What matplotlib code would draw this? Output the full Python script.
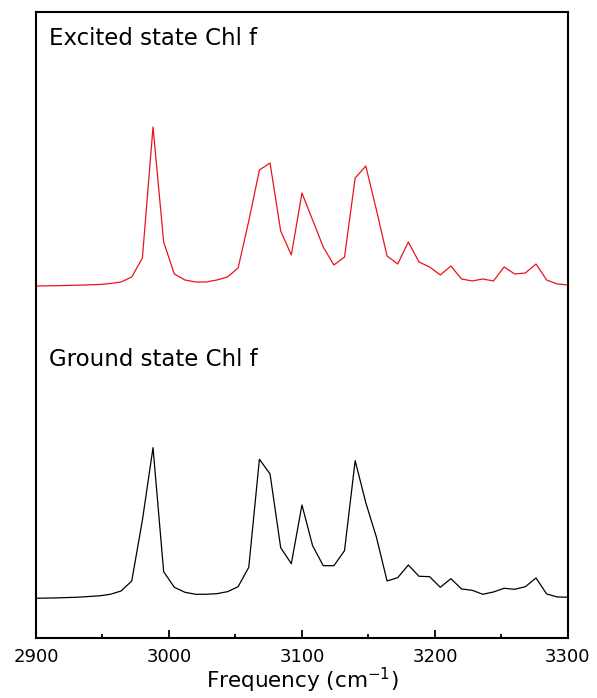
import matplotlib
matplotlib.use('Agg')
import matplotlib.pyplot as plt
from matplotlib.ticker import MultipleLocator

plt.rcParams['font.family'] = ['DejaVu Sans']
plt.rcParams['mathtext.fontset'] = 'dejavusans'

# frequencies (cm-1) and relative intensities
freq_excited = [2900, 2916, 2932, 2948, 2956, 2964, 2972, 2980, 2988, 2996,
                3004, 3012, 3020, 3028, 3036, 3044, 3052, 3060, 3068, 3076,
                3084, 3092, 3100, 3108, 3116, 3124, 3132, 3140, 3148, 3156,
                3164, 3172, 3180, 3188, 3196, 3204, 3212, 3220, 3228, 3236,
                3244, 3252, 3260, 3268, 3276, 3284, 3292, 3300]
excited = [0, 0.3, 0.8, 1.5, 2.5, 4, 9, 28, 159, 44,
           12, 6, 4, 4, 6, 9, 18, 65, 116, 123,
           55, 31, 93, 66, 39, 21, 29, 108, 120, 76,
           30, 22, 44, 24, 19, 11, 20, 7, 5, 7,
           5, 19, 12, 13, 22, 6, 2, 1]

freq_ground = [2900, 2916, 2932, 2948, 2956, 2964, 2972, 2980, 2988, 2996,
               3004, 3012, 3020, 3028, 3036, 3044, 3052, 3060, 3068, 3076,
               3084, 3092, 3100, 3108, 3116, 3124, 3132, 3140, 3148, 3156,
               3164, 3172, 3180, 3188, 3196, 3204, 3212, 3220, 3228, 3236,
               3244, 3252, 3260, 3268, 3276, 3284, 3292, 3300]
ground = [0, 0.4, 1.1, 2.5, 4, 7.3, 17.3, 78, 150.6, 26.6,
          11, 6, 4, 4, 4.6, 6.6, 11.6, 31, 139, 124.3,
          50.6, 34.6, 93.3, 52.6, 32.6, 32.6, 47.6, 137.6, 95.6, 61,
          17.3, 20.6, 33.3, 22, 21.6, 11, 19.6, 9.3, 8, 4,
          6.3, 10, 9, 11.6, 20.3, 4.3, 1.3, 1]

# vertical offsets used to stack the two spectra
excited_offset = 352
ground_offset = 39.7

fig = plt.figure(figsize=(5.97, 6.98), dpi=100)
ax = fig.add_axes([0.0603, 0.086, 0.891, 0.8968])

ax.plot(freq_excited, [v + excited_offset for v in excited], color='#e8141b', lw=0.9)
ax.plot(freq_ground, [v + ground_offset for v in ground], color='black', lw=0.9)

ax.text(0.0244, 0.947, 'Excited state Chl f', transform=ax.transAxes, fontsize=16.5)
ax.text(0.0244, 0.435, 'Ground state Chl f', transform=ax.transAxes, fontsize=16.5)

ax.set_xlim(2900, 3300)
ax.set_ylim(0, 626)
ax.xaxis.set_major_locator(MultipleLocator(100))
ax.xaxis.set_minor_locator(MultipleLocator(50))
ax.tick_params(axis='x', which='major', direction='in', length=6, width=1.3, labelsize=13, pad=7)
ax.tick_params(axis='x', which='minor', direction='in', length=3, width=1.3)
ax.set_yticks([])
for s in ax.spines.values():
    s.set_linewidth(1.5)

ax.set_xlabel('Frequency (cm$^{-1}$)', fontsize=15.5, labelpad=0)

fig.savefig('out.png', dpi=100)
